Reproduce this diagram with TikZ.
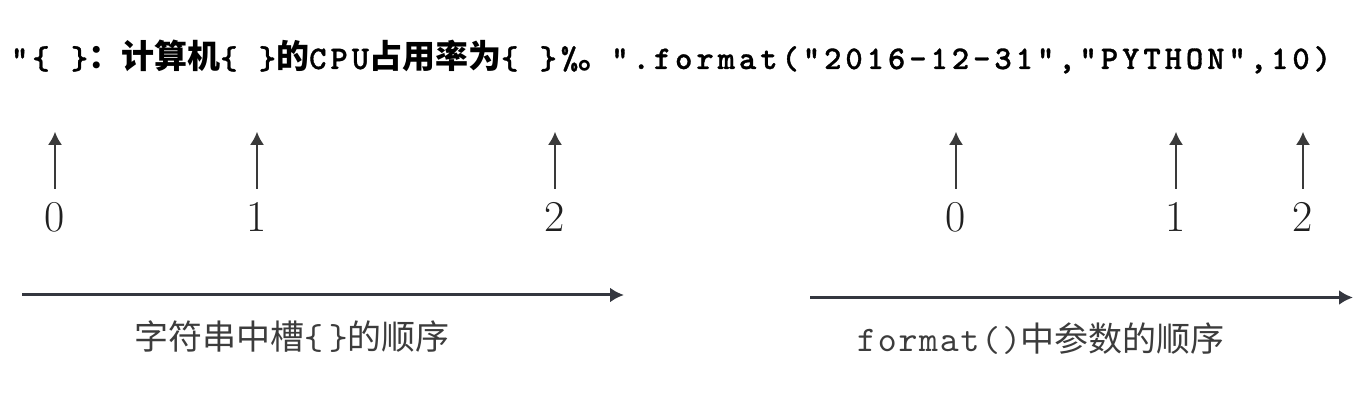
\documentclass[tikz,border=0pt]{standalone}
\usepackage{fontspec}
\usetikzlibrary{arrows.meta}
\newfontfamily\cjk{Noto Sans CJK SC}
\newfontfamily\codett{lmmono10-regular.otf}[LetterSpace=5]
\newfontfamily\codebf{lmmonolt10-bold.otf}[LetterSpace=12,FakeBold=1]
\newcommand\cj{\cjk\bfseries\fontsize{16.5bp}{18bp}\selectfont}
\newcommand\cd{\codebf\mdseries\fontsize{16.5bp}{18bp}\selectfont}
\newcommand\ct{\codett\fontsize{18bp}{20bp}\selectfont}
\definecolor{digitgray}{HTML}{202020}
\definecolor{labelgray}{HTML}{3C3C3C}
\definecolor{arrowgray}{HTML}{3A3A3A}
\definecolor{axisgray}{HTML}{34373F}
\begin{document}
\begin{tikzpicture}[>={Latex[length=6.5bp,width=7bp]},line join=bevel,
  idx/.style={inner sep=0pt,anchor=base,text=digitgray,font=\fontsize{22bp}{26bp}\selectfont},
  up/.style={->,draw=arrowgray,line width=1bp,shorten <=6.7bp},
  order/.style={->,draw=axisgray,line width=1.5bp,>={Latex[length=7bp,width=7.5bp]}},
  caption/.style={inner sep=0pt,anchor=base,text=labelgray,font=\cjk\fontsize{17bp}{20bp}\selectfont}]
    \useasboundingbox (0bp,0bp) rectangle (683bp,206.5bp);
    %%
    \node (fmt) at (335.5bp,172bp) [inner sep=0pt,anchor=base,text=black]
      {{\cd"\{ \}}{\cj：计算机}{\cd\{ \}}{\cj 的}{\cd CPU}{\cj 占用率为}{\cd\{ \}\%}{\cj 。}{\cd".format("2016-12-31","PYTHON",10)}};
    %
    \node (s0) at (27.5bp,90.6bp) [idx] {0};
    \node (s1) at (128.5bp,90.6bp) [idx] {1};
    \node (s2) at (277.5bp,90.6bp) [idx] {2};
    \node (a0) at (478bp,90.6bp) [idx] {0};
    \node (a1) at (588bp,90.6bp) [idx] {1};
    \node (a2) at (651.5bp,90.6bp) [idx] {2};
    \coordinate (ts0) at (27.5bp,140.6bp);
    \coordinate (ts1) at (128.5bp,140.6bp);
    \coordinate (ts2) at (277.5bp,140.6bp);
    \coordinate (ta0) at (478bp,140.6bp);
    \coordinate (ta1) at (588bp,140.6bp);
    \coordinate (ta2) at (651.5bp,140.6bp);
    \draw [up] (s0) -- (ts0);
    \draw [up] (s1) -- (ts1);
    \draw [up] (s2) -- (ts2);
    \draw [up] (a0) -- (ta0);
    \draw [up] (a1) -- (ta1);
    \draw [up] (a2) -- (ta2);
    %
    \coordinate (sl) at (11bp,59bp);
    \coordinate (sr) at (312bp,59bp);
    \coordinate (al) at (405bp,57.75bp);
    \coordinate (ar) at (676.5bp,57.75bp);
    \draw [order] (sl) -- (sr);
    \draw [order] (al) -- (ar);
    \node (slots) at (146bp,31.7bp) [caption] {字符串中槽{\ct\{\,\}}的顺序};
    \node (args) at (520.5bp,31bp) [caption] {{\ct format()}中参数的顺序};
    %
\end{tikzpicture}
\end{document}
